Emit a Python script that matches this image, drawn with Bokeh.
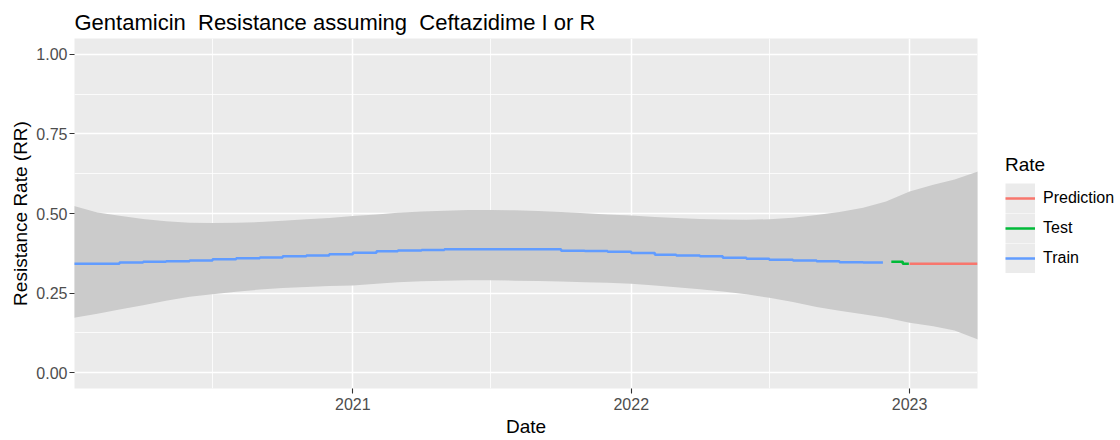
import pandas as pd
from bokeh.plotting import figure
from bokeh.models import FixedTicker, Legend, LegendItem, Range1d
from bokeh.embed import file_html
from bokeh.resources import INLINE

# ---------------- data ----------------
title_text = "Gentamicin\u00a0 Resistance assuming\u00a0 Ceftazidime I or R"
x_label = "Date"
y_label = "Resistance Rate (RR)"

# confidence band (monthly), Jan 2020 .. end of Mar 2023
band_dates = [d.strftime("%Y-%m-%d") for d in pd.date_range("2020-01-01", "2023-03-01", freq="MS")] + ["2023-04-01"]
band_upper = [0.524, 0.503, 0.493, 0.483, 0.476, 0.471, 0.470, 0.471, 0.473, 0.477,
              0.482, 0.486, 0.492, 0.497, 0.502, 0.506, 0.509, 0.511, 0.511, 0.510,
              0.508, 0.505, 0.501, 0.497, 0.494, 0.489, 0.486, 0.483, 0.481, 0.480,
              0.482, 0.487, 0.495, 0.505, 0.518, 0.538, 0.569, 0.590, 0.607, 0.632]
band_lower = [0.172, 0.185, 0.198, 0.212, 0.226, 0.238, 0.246, 0.254, 0.261, 0.266,
              0.269, 0.272, 0.274, 0.279, 0.284, 0.287, 0.289, 0.290, 0.290, 0.289,
              0.288, 0.286, 0.284, 0.282, 0.279, 0.274, 0.268, 0.262, 0.255, 0.246,
              0.235, 0.222, 0.206, 0.194, 0.183, 0.172, 0.157, 0.146, 0.132, 0.104]

# Train series (monthly steps)
train_dates = [d.strftime("%Y-%m-%d") for d in pd.date_range("2020-01-01", "2022-11-01", freq="MS")] + ["2022-11-27"]
train_values = [0.342, 0.342, 0.346, 0.348, 0.350, 0.352, 0.356, 0.359, 0.362, 0.366,
                0.368, 0.372, 0.377, 0.381, 0.384, 0.385, 0.388, 0.388, 0.388, 0.388,
                0.388, 0.383, 0.382, 0.380, 0.376, 0.370, 0.368, 0.366, 0.361, 0.358,
                0.355, 0.352, 0.350, 0.347, 0.346, 0.346]

# Test series
test_dates = ["2022-12-08", "2022-12-23", "2022-12-31"]
test_values = [0.348, 0.342, 0.342]

# Prediction series
pred_dates = ["2023-01-01", "2023-03-31"]
pred_values = [0.342, 0.342]

series_names = ["Prediction", "Test", "Train"]
series_colors = ["#F8766D", "#00BA38", "#619CFF"]

x_tick_dates = ["2021-01-01", "2022-01-01", "2023-01-01"]
x_tick_labels = ["2021", "2022", "2023"]
x_minor_dates = ["2020-07-01", "2021-07-01", "2022-07-01"]
y_ticks = [0.0, 0.25, 0.5, 0.75, 1.0]
y_tick_labels = ["0.00", "0.25", "0.50", "0.75", "1.00"]
y_minor = [0.125, 0.375, 0.625, 0.875]

x_start, x_end = "2020-01-02", "2023-03-31"
y_start, y_end = -0.05, 1.05


def ms(s):
    return pd.Timestamp(s).value // 10**6


def dt(lst):
    return [pd.Timestamp(s) for s in lst]


FONT = "Liberation Sans"

p = figure(frame_width=903, frame_height=350,
           x_axis_type="datetime",
           x_range=Range1d(ms(x_start), ms(x_end)),
           y_range=Range1d(y_start, y_end),
           output_backend="svg", toolbar_location=None,
           min_border_left=74, min_border_right=143,
           min_border_top=38, min_border_bottom=52,
           background_fill_color="#EBEBEB", border_fill_color="white",
           outline_line_color=None)

# title
p.title.text = title_text
p.title.text_font = FONT
p.title.text_font_size = "22px"
p.title.text_font_style = "normal"
p.title.text_color = "black"
p.title.align = "left"
p.title.standoff = 8

# grids
x_major = [ms(s) for s in x_tick_dates]
x_minor = [ms(s) for s in x_minor_dates]
p.xgrid.ticker = FixedTicker(ticks=x_major, minor_ticks=x_minor)
p.ygrid.ticker = FixedTicker(ticks=y_ticks, minor_ticks=y_minor)
for g in (p.xgrid, p.ygrid):
    g.grid_line_color = "white"
    g.grid_line_width = 1.5
    g.minor_grid_line_color = "white"
    g.minor_grid_line_width = 0.8

# axes
p.xaxis.ticker = FixedTicker(ticks=x_major)
p.xaxis.major_label_overrides = {t: lab for t, lab in zip(x_major, x_tick_labels)}
p.yaxis.ticker = FixedTicker(ticks=y_ticks)
p.yaxis.major_label_overrides = {t: lab for t, lab in zip(y_ticks, y_tick_labels)}
p.xaxis.axis_label = x_label
p.yaxis.axis_label = y_label
for ax in (p.xaxis, p.yaxis):
    ax.axis_line_color = None
    ax.major_tick_line_color = "#333333"
    ax.major_tick_line_width = 1.1
    ax.major_tick_out = 5
    ax.major_tick_in = 0
    ax.minor_tick_line_color = None
    ax.major_label_text_font = FONT
    ax.major_label_text_font_size = "16px"
    ax.major_label_text_color = "#4D4D4D"
    ax.axis_label_text_font = FONT
    ax.axis_label_text_font_size = "19px"
    ax.axis_label_text_font_style = "normal"
    ax.axis_label_text_color = "black"
p.xaxis.major_label_standoff = 4
p.xaxis.axis_label_standoff = 3
p.yaxis.major_label_standoff = 2
p.yaxis.axis_label_standoff = 2

# band
p.varea(x=dt(band_dates), y1=band_lower, y2=band_upper, fill_color="#CBCBCB", fill_alpha=1.0)

# series
r_train = p.step(x=dt(train_dates), y=train_values, mode="after",
                 line_color=series_colors[2], line_width=2.5)
r_test = p.step(x=dt(test_dates), y=test_values, mode="after",
                line_color=series_colors[1], line_width=2.5)
r_pred = p.line(x=dt(pred_dates), y=pred_values,
                line_color=series_colors[0], line_width=2.5)

# legend key backgrounds: a line kept outside the visible range, used only for legend glyphs
key_bg = p.line(x=dt(["2019-01-01", "2019-02-01"]), y=[-1.0, -1.0],
                line_color="#EBEBEB", line_width=30)

legend = Legend(items=[
    LegendItem(label=series_names[0], renderers=[key_bg, r_pred]),
    LegendItem(label=series_names[1], renderers=[key_bg, r_test]),
    LegendItem(label=series_names[2], renderers=[key_bg, r_train]),
], location=(28, 115))
legend.title = "Rate"
legend.title_text_font = FONT
legend.title_text_font_size = "19px"
legend.title_text_font_style = "normal"
legend.title_text_color = "black"
legend.title_standoff = 7
legend.label_text_font = FONT
legend.label_text_font_size = "16px"
legend.label_text_color = "black"
legend.glyph_width = 30
legend.glyph_height = 30
legend.label_height = 30
legend.label_width = 99
legend.spacing = 0
legend.padding = 0
legend.margin = 0
legend.label_standoff = 8
legend.border_line_alpha = 0
legend.background_fill_alpha = 0
p.add_layout(legend, "right")

open("out.html", "w").write(file_html(p, INLINE))
